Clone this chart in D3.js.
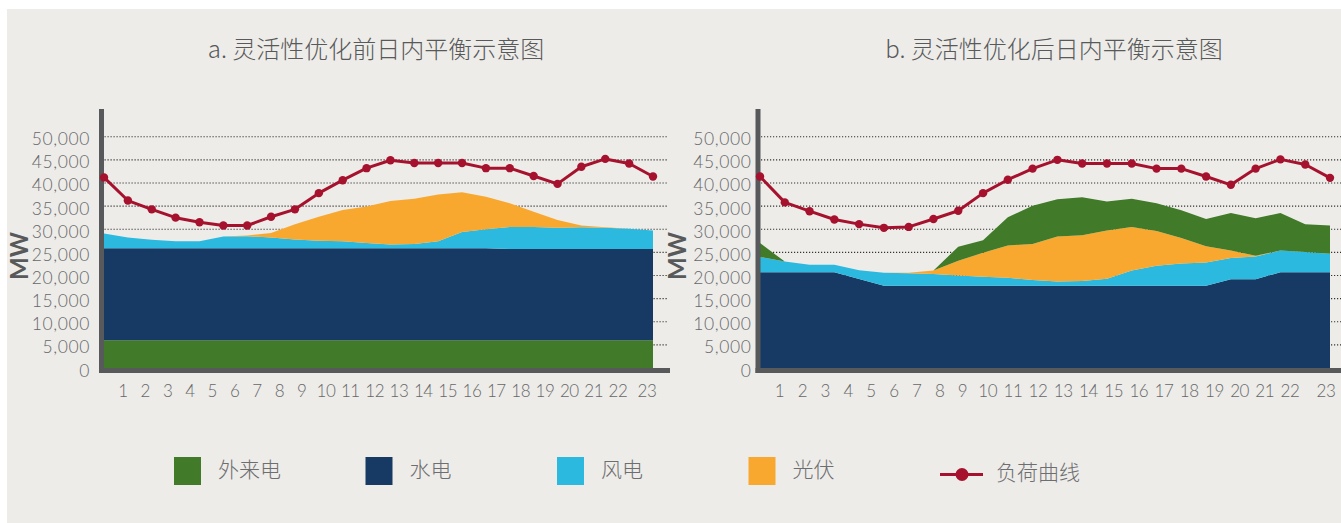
<!DOCTYPE html>
<html>
<head>
<meta charset="utf-8">
<script src="https://cdn.jsdelivr.net/npm/d3@7"></script>
<style>
  body { margin: 0; background: #fff; }
  svg { display: block; }
  .num { font-family: Lato, "Open Sans", sans-serif; font-weight: 300; fill: #66676a; }
  .cjk { font-family: "Noto Sans CJK SC", sans-serif; }
</style>
</head>
<body>
<div id="wrapper"></div>
<script>
// chart data
const hours = [0, 1, 2, 3, 4, 5, 6, 7, 8, 9, 10, 11, 12, 13, 14, 15, 16, 17, 18, 19, 20, 21, 22, 23]
const hourLabels = [1, 2, 3, 4, 5, 6, 7, 8, 9, 10, 11, 12, 13, 14, 15, 16, 17, 18, 19, 20, 21, 22, 23]
const yTicks = [0, 5000, 10000, 15000, 20000, 25000, 30000, 35000, 40000, 45000, 50000]
const seriesNames = ["外来电", "水电", "风电", "光伏"]
const loadName = "负荷曲线"
const titles = ["a. 灵活性优化前日内平衡示意图", "b. 灵活性优化后日内平衡示意图"]

// a. before
const beforeImport = [6000, 6000, 6000, 6000, 6000, 6000, 6000, 6000, 6000, 6000, 6000, 6000,
  6000, 6000, 6000, 6000, 6000, 6000, 6000, 6000, 6000, 6000, 6000, 6000]
const beforeHydro = [19900, 19900, 19900, 19900, 19900, 19900, 19900, 19900, 19900, 19900, 19900, 19900,
  19900, 19900, 19900, 19900, 19900, 19700, 19700, 19700, 19700, 19700, 19700, 19700]
const beforeWind = [3200, 2300, 1800, 1500, 1500, 2500, 2600, 2300, 1900, 1600, 1500, 1100,
  800, 900, 1500, 3500, 4100, 4800, 4800, 4600, 4700, 4600, 4400, 4000]
const beforeSolar = [0, 0, 0, 0, 0, 0, 150, 1000, 3300, 5200, 6750, 7900,
  9400, 9800, 10100, 8600, 7000, 5100, 3300, 1700, 400, 100, 0, 0]
const beforeLoad = [41200, 36200, 34300, 32500, 31500, 30800, 30800, 32700, 34300, 37800, 40600, 43200,
  44900, 44300, 44300, 44300, 43200, 43200, 41500, 39800, 43500, 45200, 44200, 41400]

// b. after
const afterImport = [3000, 0, 0, 0, 0, 0, 0, 0, 3000, 2700, 6100, 8300,
  8100, 8200, 6300, 6100, 6000, 6000, 5900, 8100, 8100, 8100, 6000, 6100]
const afterHydro = [20700, 20700, 20700, 20700, 19250, 17800, 17800, 17800, 17800, 17800, 17800, 17800,
  17800, 17800, 17800, 17800, 17800, 17800, 17800, 19200, 19200, 20700, 20700, 20700]
const afterWind = [3300, 2300, 1600, 1600, 1900, 2800, 2700, 2500, 2200, 1900, 1700, 1200,
  900, 1000, 1500, 3300, 4300, 4800, 5000, 4600, 4900, 4700, 4400, 4000]
const afterSolar = [0, 0, 0, 0, 0, 0, 100, 800, 3200, 5200, 7000, 7800,
  9700, 9900, 10400, 9400, 7500, 5500, 3500, 1600, 150, 0, 0, 0]
const afterLoad = [41400, 35800, 33900, 32100, 31100, 30300, 30500, 32200, 34000, 37800, 40700, 43100,
  45000, 44200, 44200, 44200, 43100, 43100, 41400, 39600, 43100, 45100, 44000, 41100]

const colors = {
  "外来电": "#417a29",
  "水电": "#163a63",
  "风电": "#2bb9df",
  "光伏": "#f9a82f",
  "负荷曲线": "#a6122e",
}

function drawCharts() {

  // 1. Chart dimensions
  const dimensions = {
    width: 1341,
    height: 523,
    plotTop: 109,
    yBase: 368,
    yTop: 136.7,
    axisWidth: 5,
  }

  // 2. Draw canvas
  const wrapper = d3.select('#wrapper')
    .append('svg')
      .attr('width', dimensions.width)
      .attr('height', dimensions.height)

  wrapper.append('rect')
      .attr('x', 7)
      .attr('y', 9)
      .attr('width', dimensions.width - 7)
      .attr('height', dimensions.height - 9)
      .attr('fill', '#edece8')

  const yScale = d3.scaleLinear()
    .domain([0, 50000])
    .range([dimensions.yBase, dimensions.yTop])

  const drawPanel = cfg => {
    const bounds = wrapper.append('g')

    const rows = hours.map((h, i) => {
      const row = { hour: h }
      cfg.order.forEach(key => { row[key] = cfg.series[key][i] })
      return row
    })

    const xScale = d3.scaleLinear()
      .domain([0, 23])
      .range([cfg.plotLeft, cfg.plotRight])

    // the hour labels sit on their own slightly uneven axis line
    const tickScale = d3.scaleLinear()
      .domain([1, 9, 22, 23])
      .range(cfg.tickStops)

    // gridlines
    bounds.append('g')
      .selectAll('line')
      .data(yTicks.filter(d => d > 0))
      .join('line')
        .attr('x1', cfg.axisX)
        .attr('x2', cfg.gridEnd)
        .attr('y1', d => yScale(d))
        .attr('y2', d => yScale(d))
        .attr('stroke', '#333')
        .attr('stroke-width', 1.1)
        .attr('stroke-dasharray', '1.2,1.8')

    // stacked areas
    const stack = d3.stack().keys(cfg.order)
    const areaGenerator = d3.area()
      .x(d => xScale(d.data.hour))
      .y0(d => yScale(d[0]))
      .y1(d => yScale(d[1]))

    bounds.append('g')
      .selectAll('path')
      .data(stack(rows))
      .join('path')
        .attr('d', areaGenerator)
        .attr('fill', d => colors[d.key])

    // axis bars
    bounds.append('rect')
        .attr('x', cfg.axisX - dimensions.axisWidth / 2)
        .attr('y', dimensions.plotTop)
        .attr('width', dimensions.axisWidth)
        .attr('height', dimensions.yBase + dimensions.axisWidth - dimensions.plotTop)
        .attr('fill', '#58595b')
    bounds.append('rect')
        .attr('x', cfg.axisX - dimensions.axisWidth / 2)
        .attr('y', dimensions.yBase)
        .attr('width', cfg.xAxisEnd - cfg.axisX + dimensions.axisWidth / 2)
        .attr('height', dimensions.axisWidth)
        .attr('fill', '#58595b')

    // load line
    const lineGenerator = d3.line()
      .x((d, i) => xScale(hours[i]))
      .y(d => yScale(d))

    bounds.append('path')
        .attr('d', lineGenerator(cfg.load))
        .attr('fill', 'none')
        .attr('stroke', colors[loadName])
        .attr('stroke-width', 3)
        .attr('stroke-linejoin', 'round')

    bounds.append('g')
      .selectAll('circle')
      .data(cfg.load)
      .join('circle')
        .attr('cx', (d, i) => xScale(hours[i]))
        .attr('cy', d => yScale(d))
        .attr('r', 4.2)
        .attr('fill', colors[loadName])

    // y tick labels
    bounds.append('g')
      .selectAll('text')
      .data(yTicks)
      .join('text')
        .attr('class', 'num')
        .attr('x', cfg.labelRight)
        .attr('y', d => yScale(d) + 2)
        .attr('text-anchor', 'end')
        .attr('dominant-baseline', 'central')
        .style('font-size', '17.5px')
        .style('letter-spacing', '0.6px')
        .text(d => d3.format(',')(d))

    // x tick labels
    bounds.append('g')
      .selectAll('text')
      .data(hourLabels)
      .join('text')
        .attr('class', 'num')
        .attr('x', d => tickScale(d))
        .attr('y', 397)
        .attr('text-anchor', 'middle')
        .style('font-size', '17px')
        .style('letter-spacing', '-0.4px')
        .text(d => d)

    // MW label
    bounds.append('text')
        .attr('transform', `translate(${cfg.mwX}, 256) rotate(-90)`)
        .attr('text-anchor', 'middle')
        .attr('dominant-baseline', 'central')
        .style('font-family', 'Lato, sans-serif')
        .style('font-weight', 700)
        .style('font-size', '24px')
        .style('fill', '#58595b')
        .text('MW')

    // title
    bounds.append('text')
        .attr('class', 'cjk')
        .attr('x', cfg.titleX)
        .attr('y', 58)
        .attr('text-anchor', 'middle')
        .style('font-size', '24px')
        .style('font-weight', 300)
        .style('fill', '#58595b')
        .text(cfg.title)
  }

  drawPanel({
    title: titles[0],
    order: ["外来电", "水电", "风电", "光伏"],
    series: { "外来电": beforeImport, "水电": beforeHydro, "风电": beforeWind, "光伏": beforeSolar },
    load: beforeLoad,
    plotLeft: 104,
    plotRight: 653,
    axisX: 101.5,
    gridEnd: 668,
    xAxisEnd: 670,
    labelRight: 90,
    tickStops: [123, 301.7, 618, 647],
    mwX: 18.5,
    titleX: 376,
  })

  drawPanel({
    title: titles[1],
    order: ["水电", "风电", "光伏", "外来电"],
    series: { "外来电": afterImport, "水电": afterHydro, "风电": afterWind, "光伏": afterSolar },
    load: afterLoad,
    plotLeft: 760,
    plotRight: 1330,
    axisX: 758,
    gridEnd: 1341,
    xAxisEnd: 1341,
    labelRight: 751.5,
    tickStops: [779.5, 962.5, 1290, 1326],
    mwX: 676,
    titleX: 1054,
  })

  // legend
  const legendItems = seriesNames.concat([loadName])
  const legendScale = d3.scalePoint()
    .domain(legendItems)
    .range([174, 940])

  const legend = wrapper.append('g')
  legend.selectAll('rect')
    .data(seriesNames)
    .join('rect')
      .attr('x', d => legendScale(d))
      .attr('y', 457)
      .attr('width', 27)
      .attr('height', 28)
      .attr('fill', d => colors[d])
  legend.selectAll('text.series')
    .data(seriesNames)
    .join('text')
      .attr('class', 'cjk series')
      .attr('x', d => legendScale(d) + 44)
      .attr('y', 477)
      .style('font-size', '21px')
      .style('font-weight', 300)
      .style('fill', '#6d6e71')
      .text(d => d)

  const loadX = legendScale(loadName)
  legend.append('line')
      .attr('x1', loadX)
      .attr('x2', loadX + 43)
      .attr('y1', 474.5)
      .attr('y2', 474.5)
      .attr('stroke', colors[loadName])
      .attr('stroke-width', 3)
  legend.append('circle')
      .attr('cx', loadX + 22)
      .attr('cy', 474.5)
      .attr('r', 6.5)
      .attr('fill', colors[loadName])
  legend.append('text')
      .attr('class', 'cjk')
      .attr('x', loadX + 56)
      .attr('y', 480)
      .style('font-size', '21px')
      .style('font-weight', 300)
      .style('fill', '#6d6e71')
      .text(loadName)
}
drawCharts()
</script>
</body>
</html>
